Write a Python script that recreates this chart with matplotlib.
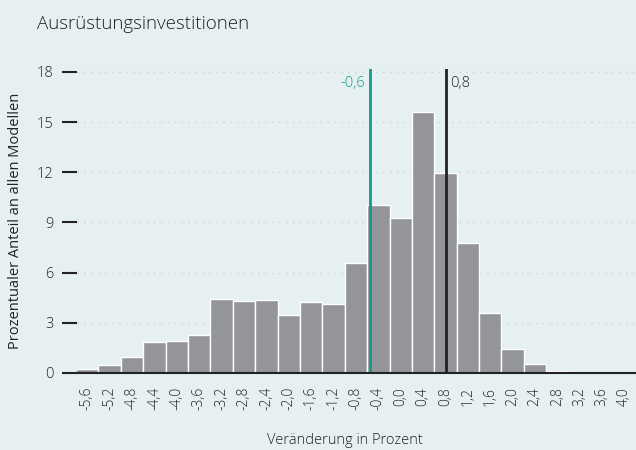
import matplotlib
matplotlib.use('Agg')
import matplotlib.pyplot as plt

plt.rcParams['font.family'] = ['Open Sans', 'DejaVu Sans']
plt.rcParams['font.weight'] = 'light'

# ── Data ──────────────────────────────────────────────────────────────────────
bins = [-5.6, -5.2, -4.8, -4.4, -4.0, -3.6, -3.2, -2.8, -2.4, -2.0, -1.6, -1.2, -0.8,
        -0.4, 0.0, 0.4, 0.8, 1.2, 1.6, 2.0, 2.4, 2.8, 3.2, 3.6, 4.0]
shares = [0.26, 0.5, 0.98, 1.87, 1.93, 2.28, 4.43, 4.31, 4.37, 3.48, 4.25, 4.13, 6.57,
          10.04, 9.26, 15.6, 11.95, 7.77, 3.6, 1.43, 0.54, 0.12, 0.06, 0.06, 0.0]
tick_labels = [f"{b:.1f}".replace(".", ",") for b in bins]
mean_val, mean_lbl = -0.55, "-0,6"
median_val, median_lbl = 0.81, "0,8"

BG = "#E7F0F1"
BAR = "#939598"
TEAL = "#14998B"
DARK = "#222222"
TXT = "#222222"

fig = plt.figure(figsize=(6.36, 4.5), dpi=100, facecolor=BG)
ax = fig.add_axes([77/636, 1 - 373/450, 1 - 77/636, (373 - 68.5)/450])
ax.set_facecolor(BG)

ax.bar(bins, shares, width=0.4, color=BAR, edgecolor="white", linewidth=1.0, zorder=2)

# mean / median markers
ax.axvline(mean_val, color=TEAL, lw=2.0, zorder=3)
ax.axvline(median_val, color=DARK, lw=2.0, zorder=3)
ax.text(mean_val - 0.08, 17.3, mean_lbl, color=TEAL, fontsize=10.5, ha="right", va="center")
ax.text(median_val + 0.08, 17.3, median_lbl, color=TXT, fontsize=10.5, ha="left", va="center")

ax.set_xlim(-5.784, 4.204)
ax.set_ylim(0, 18.2)
ax.set_xticks(bins)
ax.set_xticklabels(tick_labels, rotation=90, fontsize=10, color=TXT)
ax.set_yticks([0, 3, 6, 9, 12, 15, 18])
ax.set_yticklabels(["0", "3", "6", "9", "12", "15", "18"], fontsize=10.5, color=TXT)
ax.tick_params(axis="x", length=0, pad=10)
ax.tick_params(axis="y", length=11, width=1.5, color=DARK, pad=6)

for s in ["top", "right", "left"]:
    ax.spines[s].set_visible(False)
ax.spines["bottom"].set_color(DARK)
ax.spines["bottom"].set_linewidth(1.5)
ax.spines["bottom"].set_zorder(4)

ax.yaxis.grid(True, linestyle=(0, (1, 4)), color="#cbd2d3", lw=1.0, zorder=0)
ax.set_axisbelow(True)

ax.set_ylabel("Prozentualer Anteil an allen Modellen", fontsize=10.5, color=TXT, labelpad=10)
fig.text(345/636, 1 - 440/450, "Veränderung in Prozent", fontsize=10.5, color=TXT,
         ha="center", va="center")
fig.text(37/636, 1 - 29/450, "Ausrüstungsinvestitionen", fontsize=13.5, color=TXT,
         ha="left", va="baseline")

plt.savefig("out.png", dpi=100, facecolor=BG)
plt.close()
